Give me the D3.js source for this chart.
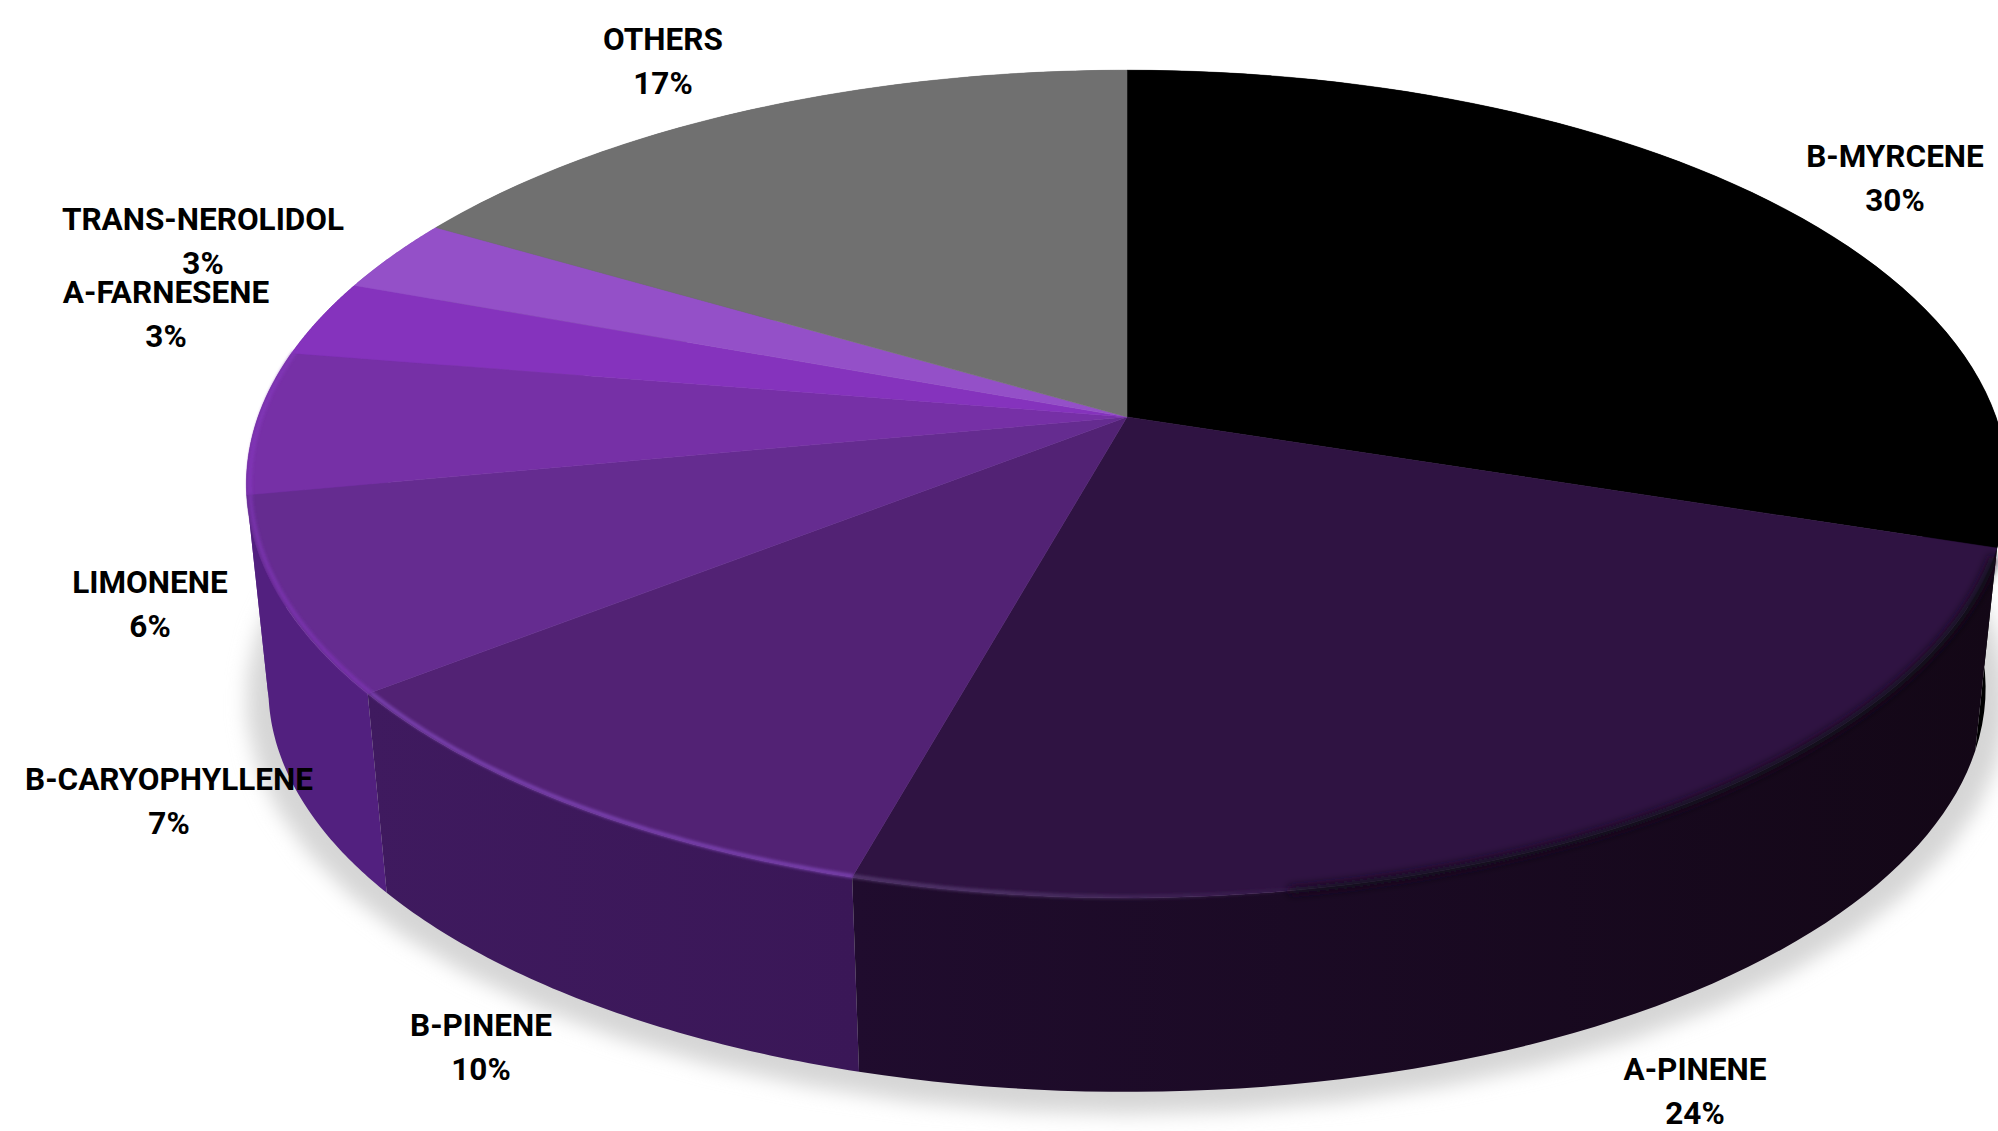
<!DOCTYPE html>
<html><head><meta charset="utf-8">
<script src="https://cdnjs.cloudflare.com/ajax/libs/d3/7.8.5/d3.min.js"></script>
<style>html,body{margin:0;padding:0;background:#fff;overflow:hidden}svg{display:block}</style>
</head><body>
<svg id="c" width="1998" height="1131"></svg>
<script>
const categories=["B-MYRCENE","A-PINENE","B-PINENE","B-CARYOPHYLLENE","LIMONENE","A-FARNESENE","TRANS-NEROLIDOL","OTHERS"];
const percentLabels=["30%","24%","10%","7%","6%","3%","3%","17%"];
// slice sizes as read from the drawn wedges
const values=[30,24.3,10.1,7.6,5.6,3,2.9,16.5];
const topColors=["#000000","#2f1342","#522274","#652c90","#7630a6","#8533bd","#9450c8","#707070"];
const sideFrom=["#000000","#200c2e","#3f1a5f","#52207f","#5f2790","#6c2aa0","#7a40a8","#5a5a5a"];
const sideTo=["#000000","#130716","#3a1757","#52207f","#5f2790","#6c2aa0","#7a40a8","#5a5a5a"];
const rimColors=[null,"#50346a","#7840ad","#7832ac","#8036b6",null,null,null];
const labelX=[1895,1695,481,169,150,166,203,663];
const labelY=[167,1080,1036,790,593,303,230,50];

const cx=1127,cy=417,A=869,B=403,K=0.162,DEPTH=206,SHRINK=0.975;
const svg=d3.select("#c");
const defs=svg.append("defs");
const blur=(id,s)=>defs.append("filter").attr("id",id).attr("x","-20%").attr("y","-20%").attr("width","140%").attr("height","140%")
  .append("feGaussianBlur").attr("stdDeviation",s);
blur("shadow",10);blur("soft",1.5);blur("edge",4);

const pie=d3.pie().sort(null).value(d=>d).startAngle(0).endAngle(2*Math.PI);
const arcs=pie(values);
const pt=(t,scale=1,dy=0)=>{const u=Math.sin(t),v=-Math.cos(t),w=1-K*v;
  return [cx+scale*A*u/w, cy+dy+scale*B*v/w];};
const samples=(a,b,scale,dy)=>d3.range(0,61).map(i=>pt(a+(b-a)*i/60,scale,dy));
const line=d3.line();

// drop shadow
const ring=samples(0,2*Math.PI,1.0,DEPTH+10);
svg.append("path").attr("d",line(ring)+"Z").attr("fill","#d6d6d6").attr("filter","url(#shadow)");

// side walls, back to front
const order=arcs.map((d,i)=>i).sort((a,b)=>{
  const m=i=>-Math.cos((arcs[i].startAngle+arcs[i].endAngle)/2);return m(a)-m(b);});
order.forEach(i=>{const d=arcs[i];
  const top=samples(d.startAngle,d.endAngle,1,0);
  const bot=samples(d.startAngle,d.endAngle,SHRINK,DEPTH).reverse();
  const xs=top.map(p=>p[0]);
  const g=defs.append("linearGradient").attr("id","side"+i).attr("gradientUnits","userSpaceOnUse")
    .attr("x1",d3.min(xs)).attr("x2",d3.max(xs)).attr("y1",0).attr("y2",0);
  g.append("stop").attr("offset",0).attr("stop-color",sideFrom[i]);
  g.append("stop").attr("offset",1).attr("stop-color",sideTo[i]);
  svg.append("path").attr("d",line(top.concat(bot))+"Z").attr("fill",`url(#side${i})`);
});

// top face wedges
arcs.forEach((d,i)=>{
  const pts=[[cx,cy]].concat(samples(d.startAngle,d.endAngle,1,0));
  svg.append("path").attr("d",line(pts)+"Z").attr("fill",topColors[i]).attr("stroke",topColors[i]).attr("stroke-width",0.5);
});

// soft transition from top to wall on the right part of the front rim
const a1=arcs[1];
const transEnd=a1.startAngle+(a1.endAngle-a1.startAngle)*0.72;
svg.append("path").attr("d",line(samples(a1.startAngle+0.02,transEnd,1,0)))
  .attr("fill","none").attr("stroke","#16081c").attr("stroke-width",8).attr("filter","url(#edge)");

// bevel highlight on the rim
arcs.forEach((d,i)=>{ if(!rimColors[i])return;
  let a=d.startAngle,b=d.endAngle;
  const g=defs.append("linearGradient").attr("id","rim"+i).attr("gradientUnits","userSpaceOnUse");
  const grad=i===1;
  if(grad){a=transEnd-0.05;
    const p=pt(a),q=pt(b);
    g.attr("x1",p[0]).attr("x2",q[0]).attr("y1",0).attr("y2",0);
    g.append("stop").attr("offset",0).attr("stop-color",rimColors[i]).attr("stop-opacity",0);
    g.append("stop").attr("offset",0.7).attr("stop-color",rimColors[i]).attr("stop-opacity",0.9);
    g.append("stop").attr("offset",1).attr("stop-color",rimColors[i]).attr("stop-opacity",1);
  }
  svg.append("path").attr("d",line(samples(a,b,1,0).map(p=>[p[0]+(cx-p[0])*0.004,p[1]-1])))
    .attr("fill","none").attr("stroke",grad?`url(#rim${i})`:rimColors[i]).attr("stroke-width",4).attr("filter","url(#soft)");
});

// labels
const labels=svg.append("g").attr("font-family","Roboto, sans-serif").attr("font-weight",700)
  .attr("font-size",31.5).attr("fill","#000").attr("text-anchor","middle");
categories.forEach((c,i)=>{
  labels.append("text").attr("x",labelX[i]).attr("y",labelY[i]).text(c);
  labels.append("text").attr("x",labelX[i]).attr("y",labelY[i]+44).text(percentLabels[i]);
});
</script>
</body></html>
